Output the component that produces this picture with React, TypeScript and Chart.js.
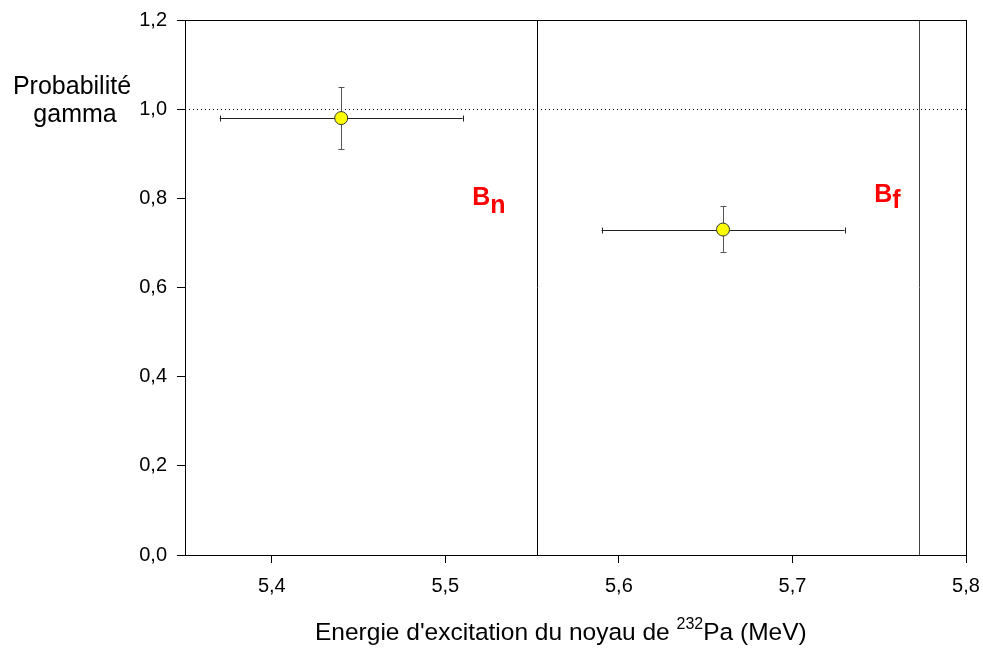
import React, { useEffect, useRef } from "react";
import { Chart, registerables } from "chart.js";

Chart.register(...registerables);

// Data
const energies = [5.44, 5.66];
const probabilities = [0.98, 0.73];
const energyErr = [0.07, 0.07];
const probErrPlus = [0.07, 0.053];
const probErrMinus = [0.07, 0.05];
const xTicks = [5.4, 5.5, 5.6, 5.7, 5.8];
const yTicks = [0.0, 0.2, 0.4, 0.6, 0.8, 1.0, 1.2];
const thresholdValues = [5.553, 5.773]; // Bn, Bf
const thresholdLabels = [["B", "n"], ["B", "f"]];
const referenceLevel = 1.0;

const FONT = "'Liberation Sans', Arial, sans-serif";

const overlayPlugin = {
  id: "overlay",
  beforeDatasetsDraw(chart: any) {
    const { ctx, chartArea, scales } = chart;
    const xs = scales.x;
    const ys = scales.y;
    ctx.save();
    // dotted reference line
    ctx.strokeStyle = "#000";
    ctx.lineWidth = 1;
    ctx.setLineDash([1, 3]);
    const yr = Math.round(ys.getPixelForValue(referenceLevel)) + 0.5;
    ctx.beginPath();
    ctx.moveTo(chartArea.left, yr);
    ctx.lineTo(chartArea.right, yr);
    ctx.stroke();
    ctx.setLineDash([]);
    // threshold lines
    thresholdValues.forEach((v, i) => {
      const px = Math.round(xs.getPixelForValue(v)) + 0.5;
      ctx.strokeStyle = i === 0 ? "#000" : "#444";
      ctx.beginPath();
      ctx.moveTo(px, chartArea.top);
      ctx.lineTo(px, chartArea.bottom);
      ctx.stroke();
    });
    // error bars
    energies.forEach((e, i) => {
      const cx = xs.getPixelForValue(e);
      const cy = ys.getPixelForValue(probabilities[i]);
      const xl = xs.getPixelForValue(e - energyErr[i]);
      const xr = xs.getPixelForValue(e + energyErr[i]);
      const yt = ys.getPixelForValue(probabilities[i] + probErrPlus[i]);
      const yb = ys.getPixelForValue(probabilities[i] - probErrMinus[i]);
      const ry = Math.round(cy) + 0.5;
      const rx = Math.round(cx) + 0.5;
      ctx.strokeStyle = "#222";
      ctx.lineWidth = 1;
      ctx.beginPath();
      ctx.moveTo(xl, ry);
      ctx.lineTo(xr, ry);
      ctx.moveTo(Math.round(xl) + 0.5, ry - 3);
      ctx.lineTo(Math.round(xl) + 0.5, ry + 3);
      ctx.moveTo(Math.round(xr) + 0.5, ry - 3);
      ctx.lineTo(Math.round(xr) + 0.5, ry + 3);
      ctx.stroke();
      ctx.strokeStyle = "#555";
      ctx.beginPath();
      ctx.moveTo(rx, yt);
      ctx.lineTo(rx, yb);
      ctx.moveTo(rx - 3, Math.round(yt) + 0.5);
      ctx.lineTo(rx + 3, Math.round(yt) + 0.5);
      ctx.moveTo(rx - 3, Math.round(yb) + 0.5);
      ctx.lineTo(rx + 3, Math.round(yb) + 0.5);
      ctx.stroke();
    });
    ctx.restore();
  },
  afterDraw(chart: any) {
    const { ctx, chartArea, scales } = chart;
    const xs = scales.x;
    ctx.save();
    // frame
    ctx.strokeStyle = "#000";
    ctx.lineWidth = 1;
    ctx.strokeRect(
      Math.round(chartArea.left) + 0.5,
      Math.round(chartArea.top) + 0.5,
      Math.round(chartArea.right - chartArea.left),
      Math.round(chartArea.bottom - chartArea.top)
    );
    // threshold labels
    ctx.fillStyle = "#ff0000";
    ctx.textBaseline = "alphabetic";
    ctx.textAlign = "left";
    const labelPos = [
      { dx: -65, base: 205, sub: 8 },
      { dx: -45, base: 202, sub: 6 },
    ];
    thresholdValues.forEach((v, i) => {
      const px = xs.getPixelForValue(v);
      const lp = labelPos[i];
      ctx.font = `bold 25px ${FONT}`;
      const bx = px + lp.dx;
      ctx.fillText(thresholdLabels[i][0], bx, lp.base);
      const w = ctx.measureText(thresholdLabels[i][0]).width;
      ctx.fillText(thresholdLabels[i][1], bx + w, lp.base + lp.sub);
    });
    // y title
    ctx.fillStyle = "#000";
    ctx.font = `25px ${FONT}`;
    ctx.textAlign = "center";
    ctx.fillText("Probabilité", 72, 94);
    ctx.fillText("gamma", 75, 122);
    // x title with superscript
    const part1 = "Energie d'excitation du noyau de ";
    const sup = "232";
    const part2 = "Pa (MeV)";
    ctx.textAlign = "left";
    const big = `24.5px ${FONT}`;
    const small = `16px ${FONT}`;
    ctx.font = big;
    const w1 = ctx.measureText(part1).width;
    ctx.font = small;
    const w2 = ctx.measureText(sup).width;
    const x0 = 315;
    const base = 640;
    ctx.font = big;
    ctx.fillText(part1, x0, base);
    ctx.font = small;
    ctx.fillText(sup, x0 + w1, base - 11);
    ctx.font = big;
    ctx.fillText(part2, x0 + w1 + w2, base);
    ctx.restore();
  },
};

const fmt = (v: number) => v.toFixed(1).replace(".", ",");

export default function App() {
  const ref = useRef<HTMLCanvasElement | null>(null);
  useEffect(() => {
    if (!ref.current) return;
    const chart = new Chart(ref.current, {
      type: "scatter",
      data: {
        datasets: [
          {
            data: energies.map((e, i) => ({ x: e, y: probabilities[i] })),
            backgroundColor: "#ffff00",
            borderColor: "#333",
            borderWidth: 1,
            pointRadius: 6.5,
            pointHoverRadius: 6.5,
          },
        ],
      },
      options: {
        responsive: false,
        animation: false,
        events: [],
        layout: { padding: { left: 0, top: 20, right: 17, bottom: 0 } },
        plugins: {
          legend: { display: false },
          tooltip: { enabled: false },
          title: { display: false },
        },
        scales: {
          x: {
            type: "linear",
            min: 5.35,
            max: 5.8,
            afterFit: (s: any) => {
              s.height = 95;
              s.paddingLeft = 0;
              s.paddingRight = 0;
              s.paddingTop = 0;
              s.paddingBottom = 0;
            },
            afterBuildTicks: (s: any) => {
              s.ticks = xTicks.map((v) => ({ value: v }));
            },
            ticks: {
              color: "#000",
              font: { family: FONT, size: 20 },
              padding: 11,
              maxRotation: 0,
              autoSkip: false,
              callback: (v: any) => fmt(Number(v)),
            },
            grid: {
              display: true,
              drawOnChartArea: false,
              drawTicks: true,
              tickLength: 8,
              color: "#000",
            },
            border: { display: false },
          },
          y: {
            type: "linear",
            min: 0,
            max: 1.2,
            afterFit: (s: any) => {
              s.width = 185;
              s.paddingLeft = 0;
              s.paddingRight = 0;
              s.paddingTop = 0;
              s.paddingBottom = 0;
            },
            afterBuildTicks: (s: any) => {
              s.ticks = yTicks.map((v) => ({ value: v }));
            },
            ticks: {
              color: "#000",
              font: { family: FONT, size: 20 },
              padding: 10,
              autoSkip: false,
              callback: (v: any) => fmt(Number(v)),
            },
            grid: {
              display: true,
              drawOnChartArea: false,
              drawTicks: true,
              tickLength: 8,
              color: "#000",
            },
            border: { display: false },
          },
        },
      },
      plugins: [overlayPlugin],
    });
    return () => chart.destroy();
  }, []);
  return (
    <div style={{ position: "fixed", left: 0, top: 0, width: 983, height: 650, background: "#fff" }}>
      <canvas ref={ref} width={983} height={650} style={{ display: "block" }} />
    </div>
  );
}
